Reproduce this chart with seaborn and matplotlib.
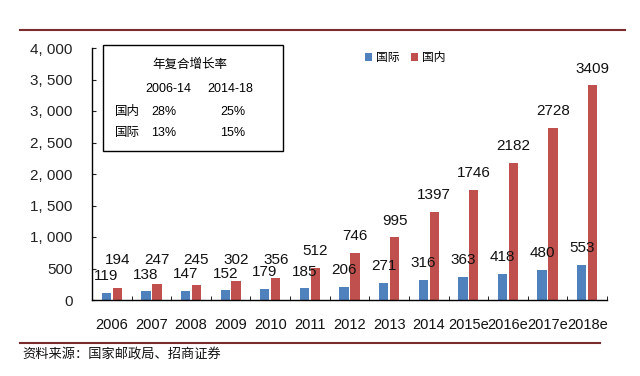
import numpy as np
import pandas as pd
import matplotlib.pyplot as plt
import seaborn as sns
from matplotlib.lines import Line2D
from matplotlib.patches import Rectangle
from matplotlib.ticker import FuncFormatter

# 数据
years = ['2006', '2007', '2008', '2009', '2010', '2011', '2012', '2013', '2014',
         '2015e', '2016e', '2017e', '2018e']
intl = [119, 138, 147, 152, 179, 185, 206, 271, 316, 363, 418, 480, 553]
dom = [194, 247, 245, 302, 356, 512, 746, 995, 1397, 1746, 2182, 2728, 3409]
series_names = ['国际', '国内']
colors = ['#4F81BD', '#C0504D']

cagr_periods = ['2006-14', '2014-18']
cagr_rows = ['国内', '国际']
cagr_values = [['28%', '25%'], ['13%', '15%']]

df = pd.DataFrame({
    'year': years * 2,
    'value': intl + dom,
    'type': [series_names[0]] * len(years) + [series_names[1]] * len(years),
})

plt.rcParams['font.family'] = ['Liberation Sans', 'Noto Sans CJK SC']
plt.rcParams['axes.unicode_minus'] = False

W, H = 640, 376
fx = lambda px: px / W
fy = lambda py: 1 - py / H

fig = plt.figure(figsize=(6.4, 3.76), dpi=100)
ax = fig.add_axes([fx(92), fy(300), (607 - 92) / W, (300 - 48) / H])

sns.barplot(data=df, x='year', y='value', hue='type', palette=colors,
            width=0.55, gap=0.15, saturation=1, ax=ax)

ax.set_xlim(-0.5, len(years) - 0.5)
ax.set_ylim(0, 4000)
ax.set_xlabel('')
ax.set_ylabel('')
for s in ['top', 'right']:
    ax.spines[s].set_visible(False)
for s in ['left', 'bottom']:
    ax.spines[s].set_color('black')
    ax.spines[s].set_linewidth(1)

ax.set_yticks(np.arange(0, 4001, 500))
ax.yaxis.set_major_formatter(FuncFormatter(lambda v, p: f'{v:,.0f}'.replace(',', ', ')))
ax.tick_params(axis='y', direction='in', length=3, pad=14, labelsize=11, colors='#222222')
ax.tick_params(axis='x', which='major', length=0, pad=13, labelsize=10.5, colors='#111111')
ax.set_xticks(np.arange(0.5, len(years), 1), minor=True)
ax.tick_params(axis='x', which='minor', direction='in', length=3, color='black')

# 数据标签
for bar in ax.containers[0]:
    h = bar.get_height()
    ax.annotate(f'{h:.0f}', (bar.get_x() + bar.get_width() / 2, h),
                xytext=(0, 7), textcoords='offset points',
                ha='center', va='bottom', fontsize=11, color='#111111')
for bar in ax.containers[1]:
    h = bar.get_height()
    ax.annotate(f'{h:.0f}', (bar.get_x() + bar.get_width() / 2, max(h, 365)),
                xytext=(0, 7), textcoords='offset points',
                ha='center', va='bottom', fontsize=11, color='#111111')

# 图例
handles, labels = ax.get_legend_handles_labels()
ax.legend(handles, labels, loc='center left', bbox_to_anchor=(fx(354), fy(58)),
          bbox_transform=fig.transFigure, ncol=2, frameon=False,
          handlelength=0.6, handleheight=0.6, handletextpad=0.4,
          columnspacing=0.9, fontsize=8.5)

# 年复合增长率表格
fig.add_artist(Rectangle((fx(103), fy(151)), 180 / W, 106 / H,
                         transform=fig.transFigure, facecolor='white',
                         edgecolor='black', lw=1, zorder=5))
fig.text(fx(190), fy(65), '年复合增长率', ha='center', va='center',
         fontsize=9, zorder=6)
for px, t in zip([168, 230], cagr_periods):
    fig.text(fx(px), fy(89), t, ha='center', va='center', fontsize=9, zorder=6)
for py, name, vals in zip([112, 133], cagr_rows, cagr_values):
    fig.text(fx(115), fy(py), name, ha='left', va='center', fontsize=9, zorder=6)
    for px, v in zip([164, 233], vals):
        fig.text(fx(px), fy(py), v, ha='center', va='center', fontsize=9, zorder=6)

# 上下分隔线和资料来源
fig.add_artist(Line2D([fx(20), fx(625)], [fy(30), fy(30)], color='#7B2C2C', lw=1.5))
fig.add_artist(Line2D([fx(20), fx(600)], [fy(343), fy(343)], color='#7B2C2C', lw=1.5))
fig.text(fx(22), fy(354), '资料来源：国家邮政局、招商证券', ha='left', va='center',
         fontsize=9.5, color='#111111')

fig.savefig('out.png', dpi=100)
